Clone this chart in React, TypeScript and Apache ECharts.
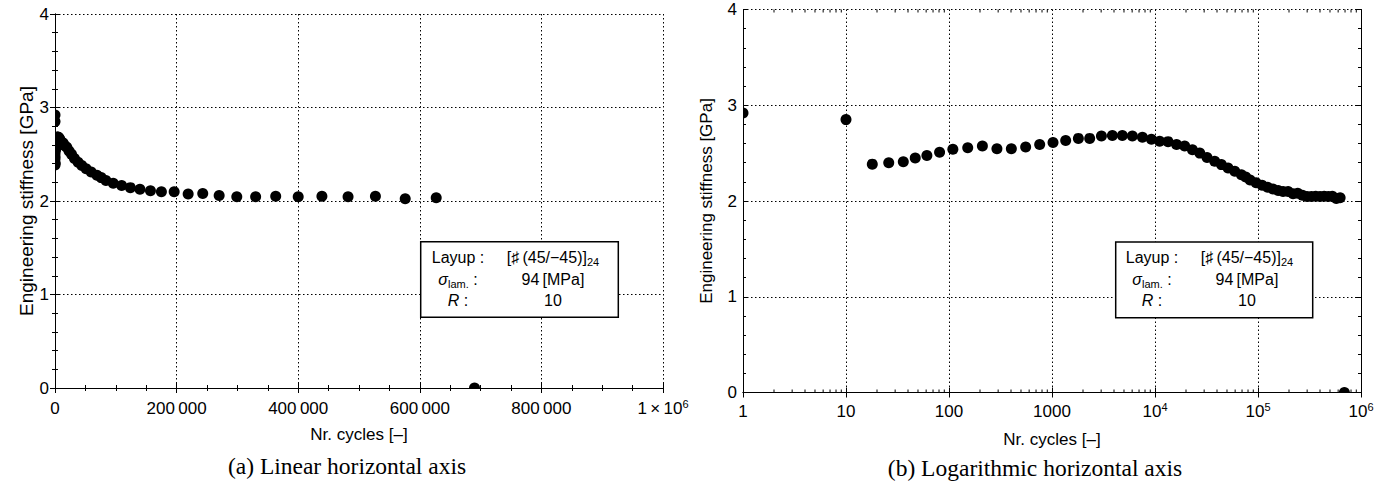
import React, { useEffect, useRef } from 'react';
import * as echarts from 'echarts';

// ---- data (Nr. cycles vs engineering stiffness [GPa]) ----
const cycles = [
  1, 10, 18, 26, 36, 47, 61, 81, 109, 152, 211, 292, 403, 555, 759, 1023, 1358, 1803, 2322, 3020,
  3857, 4820, 6030, 7550, 9230, 11100, 13400, 16200, 19400, 23100, 27200, 32000, 38000, 44100,
  51200, 59500, 69000, 76000, 83800, 95800, 109600, 124000, 139700, 157000, 175000, 196000,
  219000, 243000, 270000, 299000, 330000, 363000, 400000, 439000, 482000, 527000, 576000, 627000,
  690000,
];
const stiffness = [
  2.92, 2.85, 2.385, 2.4, 2.41, 2.45, 2.476, 2.51, 2.54, 2.556, 2.574, 2.545, 2.545, 2.565, 2.59,
  2.61, 2.633, 2.654, 2.654, 2.68, 2.685, 2.685, 2.68, 2.665, 2.645, 2.625, 2.62, 2.59, 2.574, 2.535,
  2.5, 2.455, 2.415, 2.38, 2.345, 2.31, 2.275, 2.25, 2.22, 2.19, 2.165, 2.143, 2.125, 2.11, 2.1,
  2.1, 2.075, 2.08, 2.06, 2.046, 2.046, 2.05, 2.046, 2.05, 2.046, 2.05, 2.025, 2.035, 0,
];

const linTickValues = [0, 200000, 400000, 600000, 800000, 1000000];
const linTickLabels = ['0', '200\u2009000', '400\u2009000', '600\u2009000', '800\u2009000', '1\u2009×\u200910{sup|6}'];
const logTickValues = [1, 10, 100, 1000, 10000, 100000, 1000000];
const logTickLabels = ['1', '10', '100', '1000', '10{sup|4}', '10{sup|5}', '10{sup|6}'];
const logMinorMultipliers = [2, 3, 4, 5, 6, 7, 8, 9];

const xTitle = 'Nr. cycles [–]';
const yTitle = 'Engineering stiffness [GPa]';
const captions = ['(a) Linear horizontal axis', '(b) Logarithmic horizontal axis'];
const legendLabels = ['Layup :', '{it|σ}{sub|lam.} :', '{it|R} :'];
const legendValues = ['[♯\u2009(45/−45)]{sub|24}', '94\u2009[MPa]', '10'];

const SANS = '"Liberation Sans", Arial, Helvetica, sans-serif';
const SERIF = '"Liberation Serif", "Times New Roman", serif';

const points = cycles.map((c, i) => [c, stiffness[i]]);
const logMinor: number[][] = [];
logTickValues.slice(0, -1).forEach((d) => logMinorMultipliers.forEach((m) => logMinor.push([d * m, 0])));

const supRich = {
  sup: { fontSize: 11, verticalAlign: 'top', fontFamily: SANS, color: '#000', lineHeight: 11 },
};

function yAxes(grid: number, nameGap: number, nameSize: number) {
  const common = {
    gridIndex: grid,
    type: 'value',
    min: 0,
    max: 4,
    interval: 1,
    axisLine: { show: true, lineStyle: { color: '#000', width: 1 } },
    axisTick: { show: true, inside: true, length: 5, lineStyle: { color: '#000' } },
    minorTick: { show: true, splitNumber: 5, length: 3, lineStyle: { color: '#000' } },
  };
  return [
    {
      ...common,
      position: 'left',
      name: yTitle,
      nameLocation: 'middle',
      nameGap,
      nameTextStyle: { fontSize: nameSize, fontFamily: SANS, color: '#000' },
      axisLabel: { show: true, fontSize: 17, fontFamily: SANS, color: '#000', margin: 6 },
      splitLine: { show: true, lineStyle: { color: '#000', width: 1, type: [1.5, 2.5] } },
    },
    {
      ...common,
      position: 'right',
      axisLabel: { show: false },
      splitLine: { show: false },
    },
  ];
}

function legend(col1: number, col2: number, rows: number[], box: number[]) {
  const rich = {
    it: { fontStyle: 'italic', fontSize: 16, fontFamily: SANS, color: '#000' },
    sub: { fontSize: 11, verticalAlign: 'bottom', fontFamily: SANS, color: '#000' },
  };
  const els: any[] = [
    {
      type: 'rect',
      shape: { x: box[0], y: box[1], width: box[2], height: box[3] },
      style: { fill: '#fff', stroke: '#000', lineWidth: 1.5 },
      z: 100,
    },
  ];
  rows.forEach((y, i) => {
    els.push({
      type: 'text',
      z: 101,
      style: {
        text: legendLabels[i], x: col1, y, align: 'center', verticalAlign: 'middle',
        fontSize: 16, fontFamily: SANS, fill: '#000', lineHeight: 20, rich,
      },
    });
    els.push({
      type: 'text',
      z: 101,
      style: {
        text: legendValues[i], x: col2, y, align: 'center', verticalAlign: 'middle',
        fontSize: 16, fontFamily: SANS, fill: '#000', lineHeight: 20, rich,
      },
    });
  });
  return els;
}

const dotRenderer = (_p: any, api: any) => {
  const c = api.coord([api.value(0), api.value(1)]);
  return { type: 'circle', shape: { cx: c[0], cy: c[1], r: 5.5 }, style: { fill: '#000' } };
};

export default function App() {
  const ref = useRef<HTMLDivElement>(null);
  useEffect(() => {
    if (!ref.current) return;
    const chart = echarts.init(ref.current, null, { renderer: 'svg' });
    const axisCommonX = {
      axisLine: { show: true, lineStyle: { color: '#000', width: 1 } },
      axisTick: { show: true, inside: true, length: 5, lineStyle: { color: '#000' } },
    };
    const option: any = {
      animation: false,
      backgroundColor: '#fff',
      grid: [
        { left: 55, top: 14, width: 608, height: 374, containLabel: false },
        { left: 743, top: 9.5, width: 618, height: 383, containLabel: false },
      ],
      xAxis: [
        {
          ...axisCommonX,
          gridIndex: 0, type: 'value', position: 'bottom', min: 0, max: 1000000, interval: 200000,
          minorTick: { show: true, splitNumber: 4, length: 3, lineStyle: { color: '#000' } },
          splitLine: { show: true, lineStyle: { color: '#000', width: 1, type: [1.5, 2.5] } },
          axisLabel: {
            fontSize: 17, fontFamily: SANS, color: '#000', margin: 10, lineHeight: 20,
            formatter: (v: number) => linTickLabels[linTickValues.indexOf(v)] ?? '',
            rich: supRich,
          },
          name: xTitle, nameLocation: 'middle', nameGap: 38,
          nameTextStyle: { fontSize: 17, fontFamily: SANS, color: '#000' },
        },
        {
          ...axisCommonX,
          gridIndex: 0, type: 'value', position: 'top', min: 0, max: 1000000, interval: 200000,
          minorTick: { show: true, splitNumber: 4, length: 3, lineStyle: { color: '#000' } },
          splitLine: { show: false }, axisLabel: { show: false },
        },
        {
          ...axisCommonX,
          gridIndex: 1, type: 'log', logBase: 10, position: 'bottom', min: 1, max: 1000000, splitNumber: 6,
          splitLine: { show: true, lineStyle: { color: '#000', width: 1, type: [1.5, 2.5] } },
          axisLabel: {
            fontSize: 17, fontFamily: SANS, color: '#000', margin: 9, lineHeight: 20,
            formatter: (v: number) => {
              const i = logTickValues.findIndex((t) => Math.abs(t - v) / t < 1e-6);
              return i >= 0 ? logTickLabels[i] : '';
            },
            rich: supRich,
          },
          name: xTitle, nameLocation: 'middle', nameGap: 38,
          nameTextStyle: { fontSize: 17, fontFamily: SANS, color: '#000' },
        },
        {
          ...axisCommonX,
          gridIndex: 1, type: 'log', logBase: 10, position: 'top', min: 1, max: 1000000, splitNumber: 6,
          splitLine: { show: false }, axisLabel: { show: false },
        },
      ],
      yAxis: [...yAxes(0, 16, 19), ...yAxes(1, 28, 17)],
      series: [
        {
          type: 'custom', xAxisIndex: 0, yAxisIndex: 0, data: points, clip: true, silent: true,
          encode: { x: 0, y: 1 }, renderItem: dotRenderer,
        },
        {
          type: 'custom', xAxisIndex: 2, yAxisIndex: 2, data: points, clip: true, silent: true,
          encode: { x: 0, y: 1 }, renderItem: dotRenderer,
        },
        {
          type: 'custom', xAxisIndex: 2, yAxisIndex: 2, data: logMinor, silent: true, clip: false,
          encode: { x: 0, y: 1 },
          renderItem: (_p: any, api: any) => {
            const v = api.value(0);
            const b = api.coord([v, 0]);
            const t = api.coord([v, 4]);
            const st = { stroke: '#000', lineWidth: 1 };
            return {
              type: 'group',
              children: [
                { type: 'line', shape: { x1: b[0], y1: b[1], x2: b[0], y2: b[1] - 3 }, style: st },
                { type: 'line', shape: { x1: t[0], y1: t[1], x2: t[0], y2: t[1] + 3 }, style: st },
              ],
            };
          },
        },
      ],
      graphic: [
        ...legend(458, 553, [257.7, 279, 300.5], [420.7, 241.7, 197.6, 75.6]),
        ...legend(1152, 1247, [257.7, 279, 300.7], [1115.7, 242, 197, 75.7]),
        {
          type: 'text',
          style: { text: captions[0], x: 347, y: 466, align: 'center', verticalAlign: 'middle', fontSize: 23.5, fontFamily: SERIF, fill: '#000' },
        },
        {
          type: 'text',
          style: { text: captions[1], x: 1035, y: 468, align: 'center', verticalAlign: 'middle', fontSize: 23.5, fontFamily: SERIF, fill: '#000' },
        },
      ],
    };
    chart.setOption(option);
    return () => chart.dispose();
  }, []);
  return <div ref={ref} style={{ position: 'fixed', left: 0, top: 0, width: 1390, height: 495 }} />;
}
